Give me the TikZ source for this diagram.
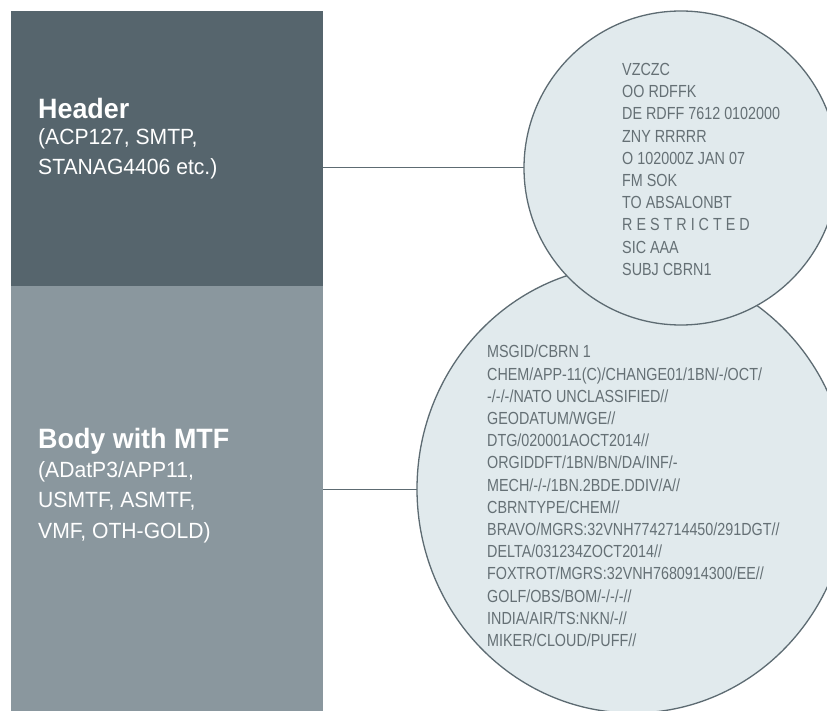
\documentclass[tikz,border=0pt]{standalone}
\usepackage{fontspec}
\setmainfont{Liberation Sans}
\newfontfamily\condfont[FakeStretch=0.82]{Liberation Sans}
\newfontfamily\leftfont[FakeStretch=0.96]{Liberation Sans}
\usetikzlibrary{shapes.geometric}
\definecolor{darkbox}{HTML}{56656D}
\definecolor{lightbox}{HTML}{8A979E}
\definecolor{bubblefill}{HTML}{E1EAED}
\definecolor{bubbleline}{HTML}{5D6B72}
\definecolor{bubbletext}{HTML}{657075}
\tikzset{
  panel/.style={draw=none, inner sep=0pt, outer sep=0pt, anchor=north west},
  bubble/.style={draw=bubbleline, line width=1.3pt, fill=bubblefill, inner sep=0pt, outer sep=0pt},
  link/.style={draw=bubbleline, line width=1pt},
  paneltext/.style={text=white, inner sep=0pt, anchor=north west, align=left, font=\leftfont\fontsize{22}{30.5}\selectfont},
  msgtext/.style={text=bubbletext, inner sep=0pt, anchor=north west, align=left, font=\condfont\fontsize{17.5}{22.2}\selectfont},
}
\begin{document}
\begin{tikzpicture}[x=1pt,y=-1pt]
\useasboundingbox (0,0) rectangle (827,711);
\clip (0,0) rectangle (827,711);
\fill[white] (0,0) rectangle (827,711);
% panels
\node[panel, fill=darkbox, minimum width=312pt, minimum height=275pt] (hdr) at (11,11) {};
\node[panel, fill=lightbox, minimum width=312pt, minimum height=430pt] (body) at (11,286) {};
% bubbles
\node[bubble, ellipse, minimum width=432pt, minimum height=448pt] (botc) at (633,489) {};
\node[bubble, circle, minimum size=314pt] (topc) at (681,168) {};
% connectors
\draw[link] (hdr.east |- topc.west) -- (topc.west);
\draw[link] (body.east |- botc.west) -- (botc.west);
% panel texts
\node[paneltext] (hdrtxt) at (38,98) {{\bfseries\fontsize{28}{28}\selectfont Header}\\[-4.5pt]
(ACP127, SMTP,\\
STANAG4406 etc.)};
\node[paneltext] (bodytxt) at (38,428) {{\bfseries\fontsize{28}{28}\selectfont Body with MTF}\\[-1.5pt]
(ADatP3/APP11,\\
USMTF, ASMTF,\\
VMF, OTH-GOLD)};
% bubble texts
\node[msgtext] (toptxt) at (622,63) {VZCZC\\
OO RDFFK\\
DE RDFF 7612 0102000\\
ZNY RRRRR\\
O 102000Z JAN 07\\
FM SOK\\
TO ABSALONBT\\
R E S T R I C T E D\\
SIC AAA\\
SUBJ CBRN1};
\node[msgtext] (bottxt) at (487,345) {MSGID/CBRN 1\\
CHEM/APP-11(C)/CHANGE01/1BN/-/OCT/\\
-/-/-/NATO UNCLASSIFIED//\\
GEODATUM/WGE//\\
DTG/020001AOCT2014//\\
ORGIDDFT/1BN/BN/DA/INF/-\\
MECH/-/-/1BN.2BDE.DDIV/A//\\
CBRNTYPE/CHEM//\\
BRAVO/MGRS:32VNH7742714450/291DGT//\\
DELTA/031234ZOCT2014//\\
FOXTROT/MGRS:32VNH7680914300/EE//\\
GOLF/OBS/BOM/-/-/-//\\
INDIA/AIR/TS:NKN/-//\\
MIKER/CLOUD/PUFF//};
\end{tikzpicture}
\end{document}
